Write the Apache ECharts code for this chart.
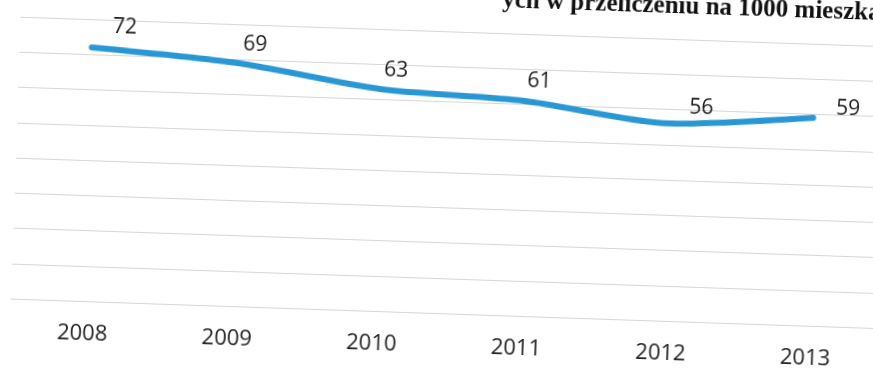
<!DOCTYPE html>
<html>
<head>
<meta charset="utf-8">
<script src="https://cdn.jsdelivr.net/npm/echarts@6/dist/echarts.min.js"></script>
<style>
html, body { margin: 0; padding: 0; background: #ffffff; overflow: hidden; width: 873px; height: 372px; }
#chart { position: absolute; left: -50px; top: -50px; width: 973px; height: 472px; transform: rotate(1.95deg); transform-origin: 486.5px 236px; }
</style>
</head>
<body>
<div id="chart"></div>
<script>
// Data
var categories = ['2008', '2009', '2010', '2011', '2012', '2013'];
var values = [72, 69, 63, 61, 56, 59];
var titleText = 'ych w przeliczeniu na 1000 mieszkańców';

// Label placement relative to each point (style only)
var labelPositions = [[33, -21], [19, -18], [16, -18], [15, -19], [33, -16], [35, -10]];

var chart = echarts.init(document.getElementById('chart'), null, { renderer: 'canvas' });
var option = {
  backgroundColor: 'transparent',
  animation: false,
  title: {
    text: titleText,
    left: 541,
    top: 31,
    padding: 5,
    textStyle: { fontFamily: 'Liberation Serif', fontWeight: 'bold', fontSize: 25, color: '#111111' }
  },
  grid: { left: 65, width: 868, top: 81, height: 282 },
  xAxis: {
    type: 'category',
    data: categories,
    boundaryGap: true,
    axisLine: { show: true, lineStyle: { color: '#d6d6d6', width: 1 } },
    axisTick: { show: false },
    axisLabel: { margin: 22, fontFamily: 'Open Sans', fontSize: 22, color: '#222222' }
  },
  yAxis: {
    type: 'value',
    min: 0, max: 80, interval: 10,
    axisLine: { show: false },
    axisTick: { show: false },
    axisLabel: { show: false },
    splitLine: { show: true, lineStyle: { color: '#d6d6d6', width: 1 } }
  },
  series: [{
    type: 'line',
    data: values.map(function (v, i) {
      return { value: v, label: { show: true, position: labelPositions[i] } };
    }),
    smooth: 0.25,
    symbol: 'circle',
    symbolSize: 1,
    showSymbol: true,
    itemStyle: { color: 'rgba(42,151,213,0)', borderWidth: 0 },
    lineStyle: { color: '#2a97d5', width: 6, cap: 'round' },
    label: {
      show: true,
      align: 'center',
      verticalAlign: 'middle',
      opacity: 1,
      fontFamily: 'Open Sans',
      fontSize: 21,
      color: '#1c1c1c'
    },
    labelLayout: { hideOverlap: false }
  }]
};
chart.setOption(option);
</script>
</body>
</html>
